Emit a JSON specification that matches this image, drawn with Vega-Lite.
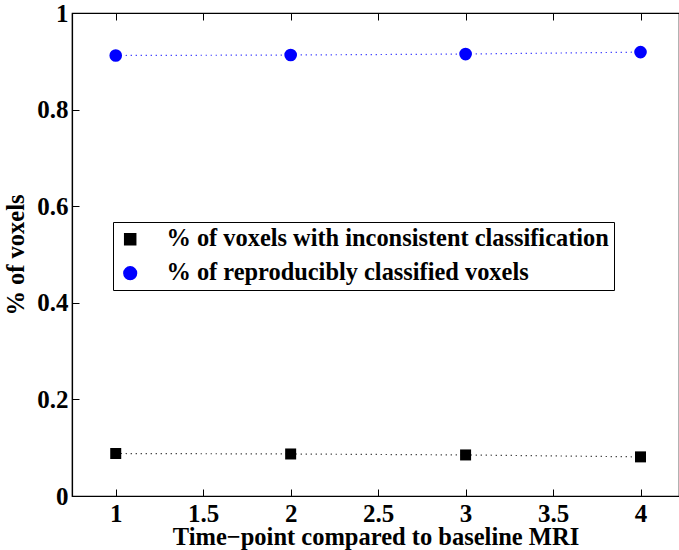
{
  "$schema": "https://vega.github.io/schema/vega-lite/v6.json",
  "width": 607,
  "height": 483,
  "autosize": {"type": "none"},
  "padding": {"left": 72, "top": 13, "right": 0, "bottom": 54},
  "background": "white",
  "config": {
    "view": {"stroke": "black", "strokeWidth": 1.2},
    "font": "Liberation Serif",
    "axis": {
      "labelFont": "Liberation Serif",
      "labelFontWeight": "bold",
      "labelFontSize": 25,
      "labelColor": "black",
      "titleFont": "Liberation Serif",
      "titleFontWeight": "bold",
      "titleFontSize": 24.5,
      "titleColor": "black",
      "domainColor": "black",
      "domainWidth": 1.2,
      "tickColor": "black",
      "tickSize": -7,
      "tickWidth": 1,
      "grid": true,
      "gridColor": "#333333",
      "gridDash": [1, 4],
      "gridWidth": 1
    },
    "legend": {
      "labelFont": "Liberation Serif",
      "labelFontWeight": "bold",
      "labelFontSize": 24.4,
      "labelColor": "black",
      "labelLimit": 0
    }
  },
  "data": {
    "values": [
      {"t": 1, "v": 0.088, "series": "% of voxels with inconsistent classification"},
      {"t": 2, "v": 0.087, "series": "% of voxels with inconsistent classification"},
      {"t": 3, "v": 0.085, "series": "% of voxels with inconsistent classification"},
      {"t": 4, "v": 0.081, "series": "% of voxels with inconsistent classification"},
      {"t": 1, "v": 0.912, "series": "% of reproducibly classified voxels"},
      {"t": 2, "v": 0.913, "series": "% of reproducibly classified voxels"},
      {"t": 3, "v": 0.915, "series": "% of reproducibly classified voxels"},
      {"t": 4, "v": 0.919, "series": "% of reproducibly classified voxels"}
    ]
  },
  "encoding": {
    "x": {
      "field": "t",
      "type": "quantitative",
      "scale": {"domain": [0.75, 4.22], "nice": false, "zero": false}
    },
    "y": {
      "field": "v",
      "type": "quantitative",
      "scale": {"domain": [0, 1], "nice": false}
    },
    "color": {
      "field": "series",
      "type": "nominal",
      "scale": {
        "domain": ["% of voxels with inconsistent classification", "% of reproducibly classified voxels"],
        "range": ["black", "#0000ff"]
      },
      "legend": {
        "title": null,
        "orient": "none",
        "legendX": 41,
        "legendY": 209,
        "strokeColor": "black",
        "fillColor": "white",
        "padding": 5,
        "symbolSize": 140,
        "labelOffset": 24,
        "rowPadding": 9,
        "labelLimit": 0
      }
    }
  },
  "resolve": {"axis": {"x": "independent", "y": "independent"}},
  "layer": [
    {
      "mark": {"type": "line", "strokeDash": [1, 4], "strokeWidth": 1.2},
      "encoding": {
        "detail": {"field": "series"},
        "x": {
          "field": "t",
          "type": "quantitative",
          "axis": {"orient": "top", "values": [1, 1.5, 2, 2.5, 3, 3.5, 4], "labels": false, "title": null, "grid": false, "domain": false}
        },
        "y": {"field": "v", "type": "quantitative", "axis": null}
      }
    },
    {
      "mark": {"type": "point", "filled": true, "opacity": 1},
      "encoding": {
        "x": {
          "field": "t",
          "type": "quantitative",
          "axis": {"values": [1, 1.5, 2, 2.5, 3, 3.5, 4], "format": "~g", "title": "Time−point compared to baseline MRI", "titleBaseline": "alphabetic", "titleY": 48, "labelPadding": 12, "labelFlush": false}
        },
        "y": {
          "field": "v",
          "type": "quantitative",
          "axis": {"values": [0, 0.2, 0.4, 0.6, 0.8, 1], "format": "~g", "title": "% of voxels", "titlePadding": 8, "labelPadding": 11, "labelFlush": false}
        },
        "shape": {
          "field": "series",
          "type": "nominal",
          "scale": {
            "domain": ["% of voxels with inconsistent classification", "% of reproducibly classified voxels"],
            "range": ["square", "circle"]
          },
          "legend": {
            "title": null,
            "orient": "none",
            "legendX": 41,
            "legendY": 209,
            "strokeColor": "black",
            "fillColor": "white",
            "padding": 5,
            "symbolSize": 140,
            "labelOffset": 24,
            "rowPadding": 9,
            "labelLimit": 0
          }
        },
        "size": {
          "field": "series",
          "type": "nominal",
          "scale": {
            "domain": ["% of voxels with inconsistent classification", "% of reproducibly classified voxels"],
            "range": [121, 160]
          },
          "legend": null
        }
      }
    }
  ]
}
